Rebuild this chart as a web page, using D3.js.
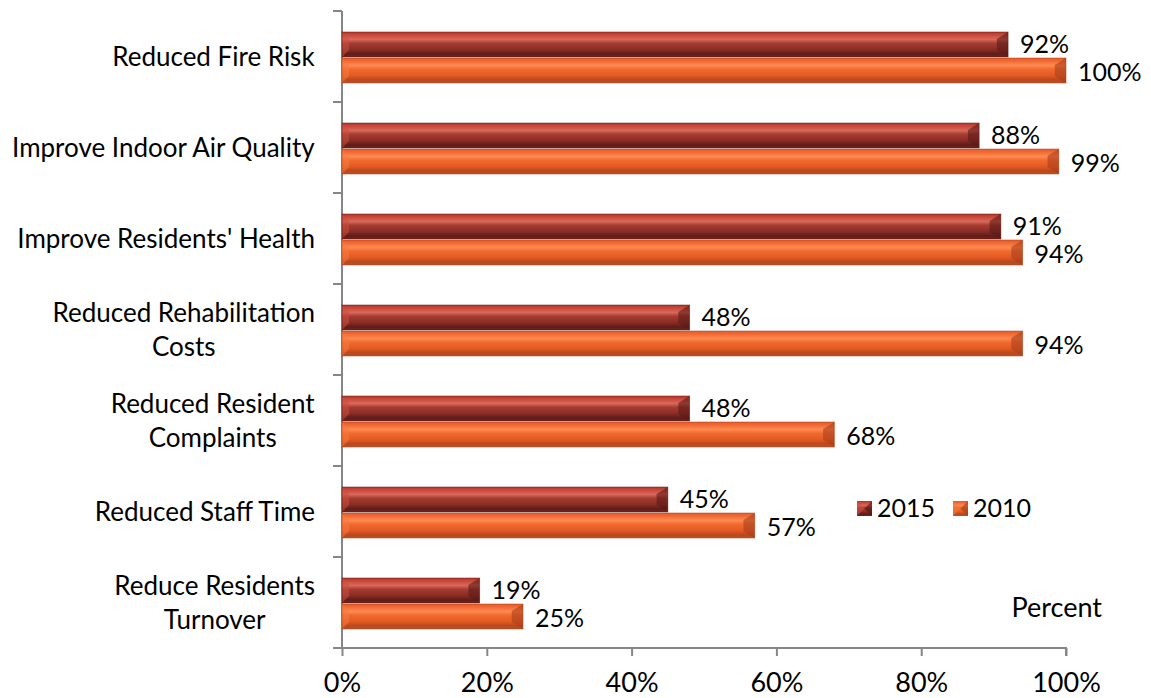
<!DOCTYPE html>
<html>
<head>
<meta charset="utf-8">
<script src="https://cdn.jsdelivr.net/npm/d3@7"></script>
<style>
  body { margin: 0; background: #fff; }
  text { font-family: Lato, "Liberation Sans", sans-serif; fill: #000; }
</style>
</head>
<body>
<div id="chart"></div>
<script>
var categories = [
  ["Reduced Fire Risk"],
  ["Improve Indoor Air Quality"],
  ["Improve Residents' Health"],
  ["Reduced Rehabilitation", "Costs"],
  ["Reduced Resident", "Complaints"],
  ["Reduced Staff Time"],
  ["Reduce Residents", "Turnover"]
];
var values2015 = [92, 88, 91, 48, 48, 45, 19];
var values2010 = [100, 99, 94, 94, 68, 57, 25];
var xTicks = [0, 20, 40, 60, 80, 100];
var seriesNames = ["2015", "2010"];

var width = 1151, height = 698;
var svg = d3.select("#chart").append("svg").attr("width", width).attr("height", height);
var defs = svg.append("defs");

// bevel-ish gradients for the two series
function grad(id, stops) {
  var g = defs.append("linearGradient").attr("id", id)
    .attr("x1", 0).attr("y1", 0).attr("x2", 0).attr("y2", 1);
  stops.forEach(function(s) {
    g.append("stop").attr("offset", s[0]).attr("stop-color", s[1]);
  });
}
grad("g2015", [[0, "#b3352a"], [0.12, "#c9483a"], [0.3, "#d9685c"], [0.45, "#a63c32"], [0.7, "#8a2d25"], [0.88, "#5e1c18"], [1, "#6e2520"]]);
grad("g2010", [[0, "#e6582a"], [0.12, "#f06a35"], [0.3, "#ff8a50"], [0.45, "#f06a30"], [0.7, "#e35a22"], [0.88, "#b8481c"], [1, "#c05028"]]);

var x = d3.scaleLinear().domain([0, 100]).range([342, 1066]);
var y = d3.scaleBand().domain(d3.range(categories.length)).range([11, 648]);

var barH = 25, gap = 1;

// axes
var xAxis = svg.append("g").attr("transform", "translate(0,648)")
  .call(d3.axisBottom(x).tickValues(xTicks).tickSize(8).tickPadding(17)
    .tickFormat(function(d) { return d + "%"; }));
xAxis.select(".domain").attr("stroke", "#868686").attr("stroke-width", 2).attr("d", "M342,0H1066V8");
xAxis.selectAll(".tick line").attr("stroke", "#868686").attr("stroke-width", 2);
xAxis.selectAll(".tick text").style("font-size", "27px").attr("fill", "#000");

var yTickPos = d3.range(categories.length + 1).map(function(i) { return 11 + i * y.step(); });
svg.append("line").attr("x1", 342).attr("x2", 342).attr("y1", 11).attr("y2", 648)
  .attr("stroke", "#868686").attr("stroke-width", 2);
svg.selectAll(".ytick").data(yTickPos).enter().append("line")
  .attr("x1", 333).attr("x2", 342)
  .attr("y1", function(d) { return d; }).attr("y2", function(d) { return d; })
  .attr("stroke", "#868686").attr("stroke-width", 2);

// category labels
svg.selectAll(".cat").data(categories).enter().append("text")
  .attr("class", "cat")
  .attr("text-anchor", "middle")
  .style("font-size", "26px")
  .each(function(lines, i) {
    var t = d3.select(this);
    var cy = y(i) + y.bandwidth() / 2;
    var lineH = 34;
    lines.forEach(function(l, j) {
      t.append("tspan").attr("x", 0)
        .attr("y", cy + (j - (lines.length - 1) / 2) * lineH)
        .attr("dy", "0.35em").text(l);
    });
    var bb = this.getBBox();
    t.selectAll("tspan").attr("x", 315 - bb.width / 2);
  });

function drawBars(vals, key, offset, labelShift) {
  var g = svg.append("g");
  vals.forEach(function(v, i) {
    var y0 = y(i) + y.bandwidth() / 2 + offset;
    var x0 = x(0), x1 = x(v), b = 7;
    var bar = g.append("g");
    bar.append("rect").attr("x", x0).attr("y", y0).attr("width", x1 - x0).attr("height", barH)
      .attr("fill", "url(#g" + key + ")");
    // bevelled ends
    var dark = key === "2015" ? "#5a1a15" : "#a8401a";
    var light = key === "2015" ? "#c8503f" : "#f47a40";
    bar.append("path")
      .attr("d", "M" + x0 + "," + y0 + "L" + (x0 + b) + "," + (y0 + b) + "L" + (x0 + b) + "," + (y0 + barH - b) + "L" + x0 + "," + (y0 + barH) + "Z")
      .attr("fill", light).attr("opacity", 0.55);
    bar.append("path")
      .attr("d", "M" + x1 + "," + y0 + "L" + (x1 - b * 1.6) + "," + (y0 + b) + "L" + (x1 - b * 1.6) + "," + (y0 + barH - b) + "L" + x1 + "," + (y0 + barH) + "Z")
      .attr("fill", dark).attr("opacity", 0.6);
    bar.append("rect").attr("x", x0).attr("y", y0).attr("width", x1 - x0).attr("height", barH)
      .attr("fill", "none").attr("stroke", dark).attr("stroke-opacity", 0.5).attr("stroke-width", 1);
    svg.append("text").attr("x", x1 + 12).attr("y", y0 + barH / 2 + labelShift).attr("dy", "0.35em")
      .style("font-size", "25px").text(v + "%");
  });
}
drawBars(values2015, "2015", -barH - gap / 2 + 1, 0);
drawBars(values2010, "2010", gap / 2 + 1, 2);

// legend
var legend = svg.append("g");
seriesNames.forEach(function(name, i) {
  var lx = [857, 953][i];
  legend.append("rect").attr("x", lx).attr("y", 501).attr("width", 15).attr("height", 15)
    .attr("fill", "url(#g" + name + ")");
  legend.append("path")
    .attr("d", "M" + lx + ",501L" + (lx + 7.5) + ",508.5L" + lx + ",516Z")
    .attr("fill", name === "2015" ? "#c8503f" : "#f47a40").attr("opacity", 0.6);
  legend.append("path")
    .attr("d", "M" + (lx + 15) + ",501L" + (lx + 7.5) + ",508.5L" + (lx + 15) + ",516Z")
    .attr("fill", name === "2015" ? "#4a1510" : "#a03c18").attr("opacity", 0.6);
  legend.append("text").attr("x", lx + 20).attr("y", 508.5).attr("dy", "0.35em")
    .style("font-size", "25px").text(name);
});

svg.append("text").attr("x", 1102).attr("y", 608).attr("dy", "0.35em")
  .attr("text-anchor", "end").style("font-size", "27px").text("Percent");
</script>
</body>
</html>
